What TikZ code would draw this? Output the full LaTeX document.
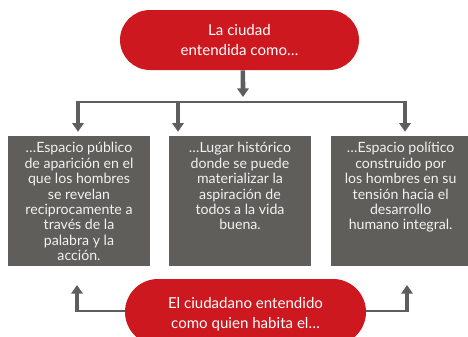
\documentclass[tikz,border=0pt]{standalone}
\usepackage{fontspec}
\setmainfont{Lato}
\usetikzlibrary{arrows.meta,calc}
\definecolor{cred}{HTML}{CC181E}
\definecolor{cbox}{HTML}{5F5E5B}
\definecolor{carrow}{HTML}{5E5E5E}
\begin{document}
\begin{tikzpicture}[x=0.75pt,y=-0.75pt,
  pilltext/.style={text=white,align=center,font=\fontsize{11.3}{15}\selectfont},
  toppill/.style={fill=cred,rounded corners=22.5pt,minimum width=179.25pt,minimum height=45pt,inner sep=0pt},
  botpill/.style={fill=cred,rounded corners=24.75pt,minimum width=180.75pt,minimum height=49.5pt,inner sep=0pt},
  greybox/.style={fill=cbox,minimum width=106.5pt,minimum height=97.5pt,inner sep=0pt},
  boxtext/.style={text=white!95!black,align=center,inner sep=0pt,anchor=north,font=\fontsize{10.6}{11.55}\selectfont},
  hline/.style={draw=carrow,line width=2pt},
  stem/.style={draw=carrow,line width=3.4pt,-{Triangle[width=8.5pt,length=6.5pt]}}]
\useasboundingbox (0,0) rectangle (468,336);
\clip (0,0) rectangle (468,336);
% top pill
\node[toppill] (top) at (239.5,40) {};
\node[pilltext] (toptext) at (top.center) {La ciudad\\entendida como…};
% grey boxes
\node[greybox] (b1) at (79,201) {};
\node[greybox] (b2) at (240,201) {};
\node[greybox] (b3) at (402,201) {};
\node[boxtext] (t1) at ([yshift=-4.8pt]b1.north) {…Espacio público\\de aparición en el\\que los hombres\\se revelan\\reciprocamente a\\través de la\\palabra y la\\acción.};
\node[boxtext] (t2) at ([yshift=-4.8pt]b2.north) {…Lugar histórico\\donde se puede\\materializar la\\aspiración de\\todos a la vida\\buena.};
\node[boxtext] (t3) at ([xshift=-1pt,yshift=-4.8pt]b3.north) {…Espacio político\\construido por\\los hombres en su\\tensión hacia el\\desarrollo\\humano integral.};
% bottom pill
\node[botpill] (bot) at (245.5,312) {};
\node[pilltext] (bottext) at ([yshift=-1.5pt]bot.center) {El ciudadano entendido\\como quien habita el…};
% top connectors
\coordinate (tstart) at ([xshift=2.6pt]top.south);
\coordinate (ttip) at (243,97);
\draw[stem] (tstart) -- (ttip);
\coordinate (j1) at (78,102);
\coordinate (j2) at (178,102);
\coordinate (j3) at (405,102);
\draw[hline] ([xshift=-1.7pt]j1) -- ([xshift=1.7pt]j3);
\draw[stem,shorten >=3pt] (j1) -- (j1 |- b1.north);
\draw[stem,shorten >=3pt] (j2) -- (j2 |- b2.north);
\draw[stem,shorten >=3pt] (j3) -- (j3 |- b3.north);
% bottom connectors
\coordinate (k1) at (77,311);
\coordinate (k2) at (407,311);
\coordinate (k1t) at (77,285);
\coordinate (k2t) at (407,285);
\draw[hline] (bot.west |- k1) -- ([xshift=-1.7pt]k1);
\draw[hline] (bot.east |- k2) -- ([xshift=1.7pt]k2);
\draw[stem] ([yshift=-1pt]k1) -- (k1t);
\draw[stem] ([yshift=-1pt]k2) -- (k2t);
\end{tikzpicture}
\end{document}
